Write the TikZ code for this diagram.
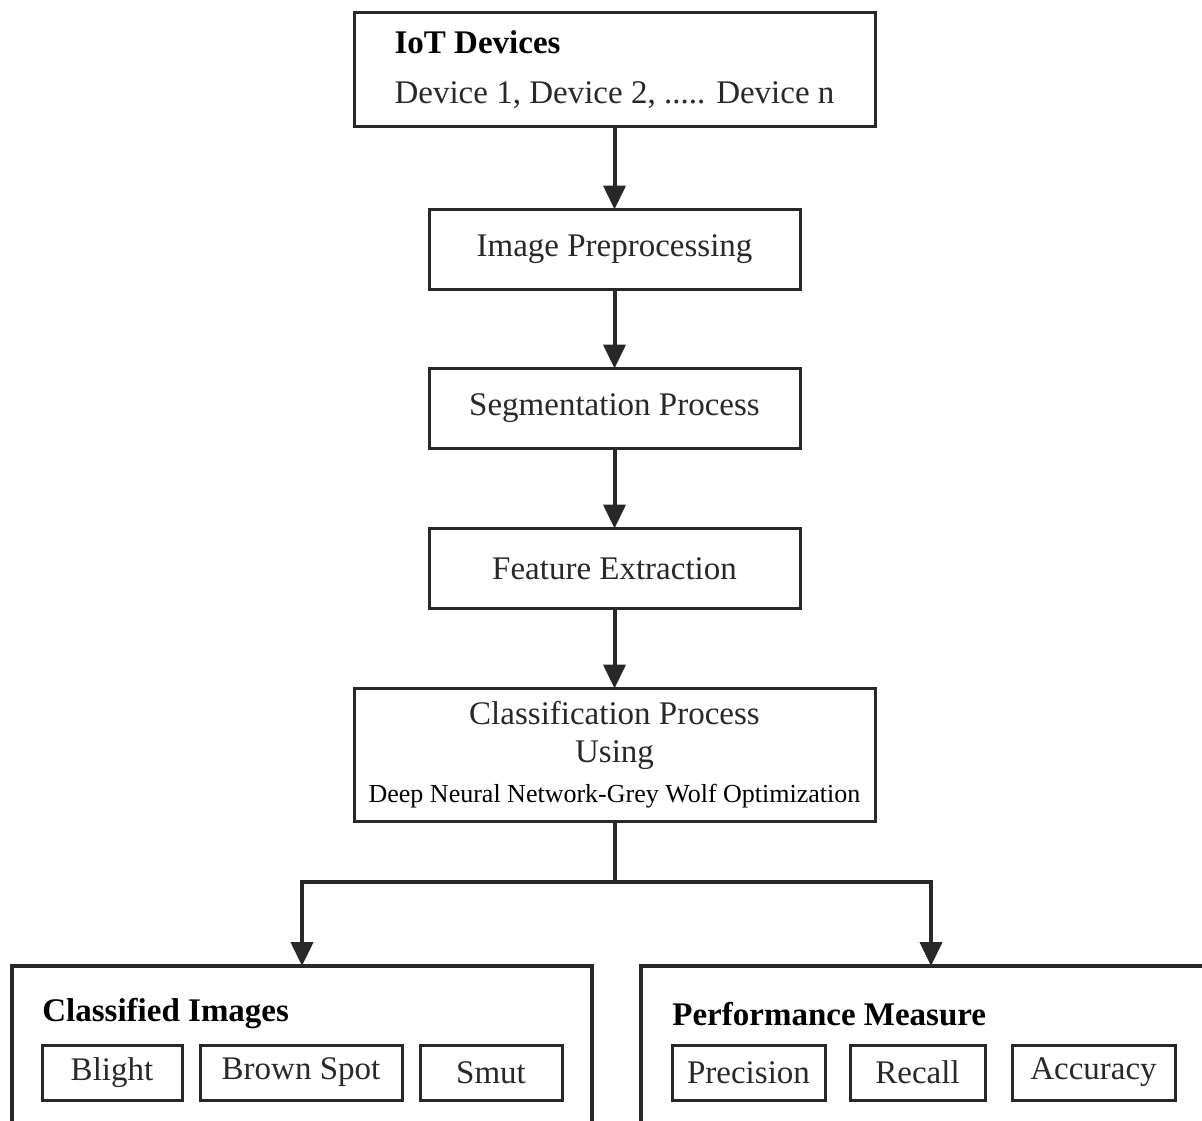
\documentclass[tikz,border=0pt]{standalone}
\usepackage{fontspec}
\setmainfont{Liberation Serif}
\usetikzlibrary{arrows.meta, positioning}
\definecolor{flowline}{RGB}{40,40,40}

\begin{document}
\begin{tikzpicture}[x=0.5pt, y=-0.5pt,
    stage/.style={draw=flowline, line width=1.5pt, outer sep=0pt, minimum width=185.5pt, minimum height=40pt, align=center, text=flowline, font=\fontsize{16.5}{19}\selectfont},
    wide/.style={stage, minimum width=260.5pt},
    group/.style={draw=flowline, line width=2pt, outer sep=0pt, minimum width=290pt, minimum height=82pt},
    title/.style={anchor=base west, inner sep=0pt, text=black, font=\fontsize{16.5}{19}\selectfont\bfseries},
    item/.style={draw=flowline, line width=1.5pt, minimum height=27.5pt, text=flowline, font=\fontsize{16.5}{19}\selectfont},
    arr/.style={-{Triangle[width=11pt,length=12pt]}, line width=2pt, draw=flowline}
  ]
    \useasboundingbox (0,0) rectangle (1202,1120);
    \clip (0,0) rectangle (1202,1120);

    % main chain
    \node[wide, minimum height=57pt, align=left] (iot) at (614.5,69.5) {{\color{black}\bfseries IoT Devices}\\[6pt]Device 1, Device 2, ..... Device n};
    \node[stage, below=41.5pt of iot] (prep) {Image Preprocessing};
    \node[stage, below=39.5pt of prep] (seg) {Segmentation Process};
    \node[stage, below=40pt of seg] (feat) {Feature Extraction};
    \node[wide, minimum height=66.5pt, below=40pt of feat] (cls) {Classification Process\\Using\\[1pt]{\color{black}\fontsize{13}{16}\selectfont Deep Neural Network-Grey Wolf Optimization}};

    \draw[arr] (iot) -- (prep);
    \draw[arr] (prep) -- (seg);
    \draw[arr] (seg) -- (feat);
    \draw[arr] (feat) -- (cls);

    % output groups
    \node[group, anchor=north] (classimg) at (302,966) {};
    \node[group, anchor=north] (perfmeas) at (931,966) {};

    \coordinate (split) at ([yshift=-30pt]cls.south);
    \draw[line width=2pt, draw=flowline] (cls.south) -- (split);
    \draw[arr] (split) -| (classimg.north);
    \draw[arr] (split) -| (perfmeas.north);

    \node[title] (citext) at (42,1021) {Classified Images};
    \node[item, minimum width=70pt] (blight) at (112,1072.5) {Blight};
    \node[item, minimum width=101pt] (brown) at (301,1072.5) {Brown Spot};
    \node[item, minimum width=71pt] (smut) at (491,1072.5) {Smut};

    \node[title] (pmtext) at (672,1025) {Performance Measure};
    \node[item, minimum width=76.5pt] (prec) at (748.5,1072.5) {Precision};
    \node[item, minimum width=67.5pt] (recall) at (917.5,1072.5) {Recall};
    \node[item, minimum width=81.5pt] (acc) at (1093.5,1072.5) {Accuracy};
  \end{tikzpicture}
\end{document}
